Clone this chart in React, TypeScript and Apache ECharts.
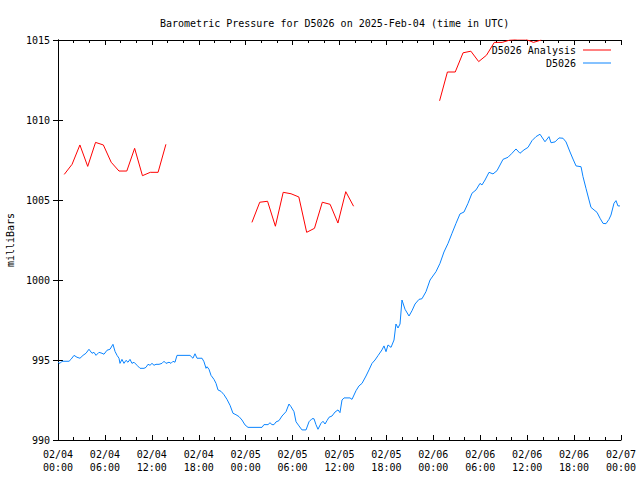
import React, { useEffect, useRef } from "react";
import * as echarts from "echarts";

const TITLE = "Barometric Pressure for D5026 on 2025-Feb-04 (time in UTC)";
const Y_NAME = "milliBars";
const SERIES_ANALYSIS = "D5026 Analysis";
const SERIES_OBS = "D5026";

// hours since 2025-02-04 00:00 UTC
const analysisHoursA = [0.8, 1.8, 2.8, 3.8, 4.8, 5.8, 6.8, 7.8, 8.8, 9.8, 10.8, 11.8, 12.8, 13.8];
const analysisValuesA = [1006.6, 1007.23, 1008.44, 1007.1, 1008.6, 1008.44, 1007.36, 1006.81, 1006.81, 1008.23, 1006.52, 1006.73, 1006.73, 1008.48];
const analysisHoursB = [24.8, 25.8, 26.8, 27.8, 28.8, 29.8, 30.8, 31.8, 32.8, 33.8, 34.8, 35.8, 36.8, 37.8];
const analysisValuesB = [1003.6, 1004.86, 1004.92, 1003.36, 1005.48, 1005.39, 1005.19, 1002.98, 1003.23, 1004.86, 1004.73, 1003.56, 1005.52, 1004.61];
const analysisHoursC = [48.8, 49.8, 50.8, 51.8, 52.8, 53.8, 54.8, 55.8, 56.8, 57.8, 58.8, 59.8, 60.8, 61.8];
const analysisValuesC = [1011.2, 1013.0, 1013.0, 1014.2, 1014.3, 1013.65, 1014.05, 1014.85, 1014.85, 1015.0, 1015.05, 1015.05, 1014.85, 1015.0];

const obsHours = [
  0, 0.26, 0.51, 1.41, 1.66, 2.05, 2.43, 2.81, 3.2, 3.58, 3.96, 4.35, 4.6, 4.86, 5.24, 5.63, 5.88, 6.27, 6.65, 7.03, 7.29,
  7.55, 7.8, 7.93, 8.18, 8.44, 8.7, 8.95, 9.21, 9.46, 9.72, 10.1, 10.49, 11.0, 11.25, 11.51, 11.77, 12.02, 12.28, 12.53,
  12.92, 13.3, 13.56, 13.81, 14.2, 14.45, 14.71, 14.96, 15.22, 16.88,
  17.26, 17.52, 17.78, 18.42, 18.67, 18.93, 19.06, 19.31, 19.57, 19.95, 20.21, 20.46, 20.85, 21.23, 21.61, 22.0, 22.38,
  22.76, 23.15, 23.53, 23.92, 24.3, 26.09, 26.34, 26.86, 27.11, 27.37, 27.62, 27.88, 28.26, 28.65, 29.16, 29.54, 29.8,
  30.18, 30.44, 30.82, 31.2, 31.72, 32.1, 32.48, 32.74, 32.99, 33.25, 33.63, 33.89, 34.15, 34.4, 34.66, 35.04, 35.43,
  35.81, 36.06, 36.32, 36.58, 37.34, 37.6, 38.11, 38.49, 38.88, 39.39, 39.77, 40.16, 40.54, 40.92, 41.43, 41.69, 41.95, 42.2,
  42.59, 42.97, 43.22, 43.48, 43.74, 43.99, 44.38, 44.89, 45.27, 45.66, 46.17, 46.55, 47.06, 47.58, 48.34, 48.85, 49.36,
  49.88, 50.39, 50.9, 51.41, 51.92, 52.43, 52.94, 53.46, 53.97, 54.22, 54.61, 55.12, 55.63, 56.14, 56.91, 57.55, 58.06,
  58.57, 59.08, 59.59, 60.11, 60.62, 61.13, 61.64, 62.28, 62.79, 63.05, 63.56, 64.07, 64.58, 64.97, 65.48, 65.86, 66.25,
  66.89, 67.14, 67.52, 67.91, 68.16, 68.55, 68.93, 69.32, 69.7, 70.08, 70.46, 70.72, 71.1, 71.36, 71.61, 71.87,
];
const obsValues = [
  994.85, 994.79, 994.92, 994.92, 995.04, 995.29, 995.17, 995.11, 995.29, 995.42, 995.67, 995.42, 995.48, 995.29, 995.48,
  995.42, 995.36, 995.61, 995.67, 995.98, 995.54, 995.29, 995.11, 994.79, 995.04, 994.79, 994.98, 994.86, 995.04, 994.79,
  994.86, 994.67, 994.48, 994.48, 994.54, 994.73, 994.67, 994.79, 994.67, 994.73, 994.73, 994.79, 994.92, 994.79, 994.86,
  994.79, 994.92, 994.86, 995.29, 995.29,
  995.11, 995.39, 995.11, 995.11, 994.89, 994.48, 994.58, 994.42, 994.04, 993.79, 993.54, 993.13, 993.04, 992.83, 992.54,
  992.17, 991.67, 991.58, 991.46, 991.25, 990.94, 990.79, 990.79, 990.96, 990.96, 991.08, 990.96, 990.96, 991.13, 991.21,
  991.5, 991.77, 992.25, 992.08, 991.77, 991.14, 990.88, 990.63, 990.63, 991.14, 991.33, 991.33, 990.96, 990.67, 991.04,
  991.17, 991.0, 991.21, 991.42, 991.5, 991.75, 991.88, 991.71, 992.5, 992.63, 992.63, 992.54, 993.08, 993.38, 993.54,
  994.0, 994.38, 994.79, 995.0, 995.27, 995.63, 995.88, 995.52, 995.94,
  995.79, 996.25, 997.25, 997.0, 997.25, 998.75, 998.17, 997.75, 998.08, 998.5, 998.79, 998.83, 999.27, 1000.0, 1000.52,
  1001.04, 1001.75, 1002.29, 1002.92, 1003.54, 1004.13, 1004.25, 1004.79, 1005.42, 1005.63, 1006.04, 1005.94, 1006.25,
  1006.73, 1006.63, 1006.83, 1007.54, 1007.67, 1007.92, 1008.19, 1007.92, 1008.13, 1008.29, 1008.71, 1008.96, 1009.11,
  1008.64, 1008.96, 1008.58, 1008.63, 1008.88, 1008.86, 1008.63, 1008.0, 1007.56, 1007.13, 1007.08, 1006.46, 1005.73,
  1005.0, 1004.54, 1004.38, 1004.23, 1003.86, 1003.54, 1003.52, 1003.79, 1004.06, 1004.79, 1004.96, 1004.63, 1004.63,
];

const X_MIN = 0;
const X_MAX = 72;
const X_STEP = 6;
const Y_MIN = 990;
const Y_MAX = 1015;
const Y_STEP = 5;

const FONT = "DejaVu Sans Mono";
const RED = "#ff0000";
const BLUE = "#0a84ff";

function pairs(h: number[], v: number[]) {
  return h.map((x, i) => [x, v[i]]);
}

function fmtX(v: number) {
  const day = 4 + Math.floor(v / 24);
  const hh = Math.round(v % 24);
  const p = (n: number) => (n < 10 ? "0" + n : "" + n);
  return "02/" + p(day) + "\n" + p(hh) + ":00";
}

export default function App() {
  const ref = useRef<HTMLDivElement>(null);
  useEffect(() => {
    if (!ref.current) return;
    const chart = echarts.init(ref.current, undefined, { renderer: "svg" });
    const analysisData: any[] = [
      ...pairs(analysisHoursA, analysisValuesA),
      [19, "-"],
      ...pairs(analysisHoursB, analysisValuesB),
      [43, "-"],
      ...pairs(analysisHoursC, analysisValuesC),
    ];
    const axisLine = { show: true, lineStyle: { color: "#000", width: 1 } };
    const baseX = {
      type: "value" as const,
      min: X_MIN,
      max: X_MAX,
      interval: X_STEP,
      splitLine: { show: false },
      axisLine,
      axisTick: { show: true, inside: true, length: 5, lineStyle: { color: "#000" } },
      minorTick: { show: true, splitNumber: 3, length: 3, lineStyle: { color: "#000" } },
    };
    const baseY = {
      type: "value" as const,
      min: Y_MIN,
      max: Y_MAX,
      interval: Y_STEP,
      splitLine: { show: false },
      axisLine,
      axisTick: { show: true, inside: true, length: 5, lineStyle: { color: "#000" } },
    };
    chart.setOption({
      animation: false,
      backgroundColor: "#fff",
      title: {
        text: TITLE,
        left: 155,
        top: 13,
        textStyle: { fontFamily: FONT, fontSize: 10, fontWeight: "normal", color: "#000" },
      },
      legend: {
        orient: "vertical",
        right: 24,
        top: 40,
        align: "right",
        icon: "rect",
        itemWidth: 28,
        itemHeight: 1,
        itemGap: 3,
        textStyle: { fontFamily: FONT, fontSize: 10, color: "#000", padding: [0, 2, 0, 0] },
        data: [SERIES_ANALYSIS, SERIES_OBS],
      },
      grid: { left: 58, right: 19, top: 40, bottom: 40, containLabel: false, outerBoundsMode: "none" },
      xAxis: [
        {
          ...baseX,
          position: "bottom",
          axisLabel: {
            show: true,
            formatter: fmtX,
            fontFamily: FONT,
            fontSize: 10,
            lineHeight: 13,
            color: "#000",
            margin: 8,
            showMaxLabel: true,
            showMinLabel: true,
          },
        },
        { ...baseX, position: "top", axisLabel: { show: false } },
      ],
      yAxis: [
        {
          ...baseY,
          position: "left",
          name: Y_NAME,
          nameLocation: "middle",
          nameGap: 43,
          nameRotate: 90,
          nameTextStyle: { fontFamily: FONT, fontSize: 10, color: "#000" },
          axisLabel: { fontFamily: FONT, fontSize: 10, color: "#000", margin: 8, formatter: (v: number) => String(v) },
        },
        { ...baseY, position: "right", axisLabel: { show: false } },
      ],
      series: [
        {
          name: SERIES_ANALYSIS,
          type: "line",
          data: analysisData,
          xAxisIndex: 0,
          yAxisIndex: 0,
          symbol: "none",
          connectNulls: false,
          clip: true,
          lineStyle: { color: RED, width: 1 },
          itemStyle: { color: RED },
        },
        {
          name: SERIES_OBS,
          type: "line",
          data: pairs(obsHours, obsValues),
          xAxisIndex: 0,
          yAxisIndex: 0,
          symbol: "none",
          clip: true,
          lineStyle: { color: BLUE, width: 1 },
          itemStyle: { color: BLUE },
        },
      ],
    });
    return () => chart.dispose();
  }, []);
  return <div ref={ref} style={{ width: 640, height: 480, position: "absolute", left: 0, top: 0 }} />;
}
